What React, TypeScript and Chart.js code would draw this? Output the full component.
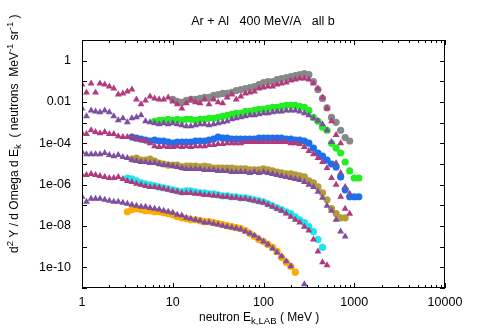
import React, { useEffect, useRef } from "react";
import { Chart, registerables } from "chart.js";

Chart.register(...registerables);

const FONT = '"Liberation Sans", Arial, Helvetica, sans-serif';

// neutron kinetic energy grid (MeV)
const energies = [1, 1.12, 1.26, 1.41, 1.58, 1.78, 2.0, 2.24, 2.51, 2.82, 3.16, 3.55, 3.98, 4.47, 5.01, 5.62, 6.31, 7.08, 7.94, 8.91, 10, 11.2, 12.6, 14.1, 15.8, 17.8, 20, 22.4, 25.1, 28.2, 31.6, 35.5, 39.8, 44.7, 50.1, 56.2, 63.1, 70.8, 79.4, 89.1, 100, 112, 126, 141, 158, 178, 200, 224, 251, 282, 316, 355, 398, 447, 501, 562, 631, 708, 794, 891, 1000, 1122];

// group 1 (top): magenta triangles from E index 0, grey circles from index 20
const tri1 = [0.070, 0.029, 0.078, 0.029, 0.078, 0.070, 0.056, 0.045, 0.023, 0.026, 0.032, 0.040, 0.0133, 0.0077, 0.0119, 0.0186, 0.0149, 0.0133, 0.0133, 0.0166, 0.0107, 0.0077, 0.0049, 0.0086, 0.0133, 0.0096, 0.0086, 0.0133, 0.0077, 0.0133, 0.0096, 0.0086, 0.0166, 0.023, 0.0133, 0.0186, 0.026, 0.029, 0.032, 0.045, 0.050, 0.056, 0.056, 0.070, 0.078, 0.087, 0.109, 0.122, 0.136, 0.136, 0.122, 0.078, 0.045, 0.0166, 0.0049, 0.00117, 2.5e-4, 1.0e-4];
const grey1 = [0.0133, 0.0107, 0.0096, 0.0119, 0.0133, 0.0133, 0.0149, 0.0166, 0.0166, 0.0208, 0.023, 0.026, 0.026, 0.029, 0.036, 0.040, 0.045, 0.050, 0.056, 0.070, 0.087, 0.098, 0.098, 0.122, 0.136, 0.152, 0.170, 0.19, 0.21, 0.237, 0.21, 0.098, 0.040, 0.0149, 0.0052, 0.0018, 0.00104, 4.3e-4, 1.9e-4, 1.3e-4];

// group 2: purple triangles from 0, green circles from 16
const tri2 = [4.9e-3, 2.03e-3, 3.9e-3, 3.5e-3, 3.2e-3, 3.9e-3, 3.2e-3, 2.03e-3, 1.3e-3, 1.63e-3, 1.04e-3, 1.63e-3, 1.82e-3, 2.27e-3, 1.17e-3, 1.04e-3, 9.3e-4, 8.4e-4, 9.3e-4, 8.4e-4, 9.3e-4, 8.4e-4, 7.5e-4, 6.7e-4, 6.7e-4, 7.5e-4, 8.4e-4, 8.4e-4, 7.5e-4, 8.4e-4, 9.3e-4, 1.04e-3, 1.17e-3, 1.46e-3, 1.63e-3, 1.82e-3, 2.03e-3, 2.27e-3, 2.27e-3, 2.54e-3, 2.83e-3, 2.83e-3, 3.2e-3, 3.5e-3, 3.5e-3, 3.9e-3, 3.9e-3, 3.9e-3, 3.5e-3, 2.83e-3, 2.27e-3, 1.63e-3, 1.25e-3, 8.4e-4, 4.3e-4, 1.15e-4, 1.1e-5, 3.7e-6, 7.8e-7, 3.6e-7];
const green2 = [1.17e-3, 1.3e-3, 1.3e-3, 1.46e-3, 1.3e-3, 1.46e-3, 1.3e-3, 1.46e-3, 1.46e-3, 1.3e-3, 1.46e-3, 1.46e-3, 1.63e-3, 1.63e-3, 1.82e-3, 2.03e-3, 2.27e-3, 2.54e-3, 2.83e-3, 2.83e-3, 3.5e-3, 3.5e-3, 3.9e-3, 4.4e-3, 4.4e-3, 4.9e-3, 5.5e-3, 5.5e-3, 6.1e-3, 6.9e-3, 6.9e-3, 6.9e-3, 6.1e-3, 5.5e-3, 3.9e-3, 1.82e-3, 1.17e-3, 6.0e-4, 4.3e-4, 1.0e-4, 5.9e-5, 3.4e-5, 1.25e-5, 4.6e-6, 2.1e-6, 2.1e-6];

// group 3: magenta triangles from 0, blue circles from 11
const tri3 = [3.1e-4, 2.8e-4, 4.3e-4, 3.5e-4, 3.1e-4, 3.5e-4, 2.8e-4, 2.8e-4, 2.2e-4, 2.0e-4, 2.0e-4, 2.0e-4, 1.6e-4, 1.43e-4, 1.28e-4, 1.02e-4, 7.3e-5, 6.6e-5, 7.3e-5, 6.6e-5, 6.6e-5, 7.3e-5, 6.6e-5, 7.3e-5, 6.6e-5, 7.3e-5, 7.3e-5, 7.3e-5, 8.2e-5, 8.2e-5, 9.2e-5, 9.2e-5, 1.02e-4, 1.02e-4, 1.02e-4, 1.02e-4, 1.15e-4, 1.15e-4, 1.15e-4, 1.15e-4, 1.15e-4, 1.15e-4, 1.15e-4, 1.15e-4, 1.15e-4, 1.15e-4, 1.02e-4, 1.02e-4, 9.2e-5, 6.6e-5, 4.2e-5, 3.0e-5, 1.94e-5, 1.25e-5, 6.4e-6, 2.1e-6, 9.8e-7, 2.6e-7, 6.9e-8, 3.9e-8];
const blue3 = [2.0e-4, 1.78e-4, 1.6e-4, 1.43e-4, 1.28e-4, 1.43e-4, 1.28e-4, 1.28e-4, 1.15e-4, 1.02e-4, 1.15e-4, 1.15e-4, 1.15e-4, 1.15e-4, 1.28e-4, 1.28e-4, 1.28e-4, 1.43e-4, 1.6e-4, 2.0e-4, 1.78e-4, 1.78e-4, 1.6e-4, 1.6e-4, 1.6e-4, 1.6e-4, 1.6e-4, 1.6e-4, 1.78e-4, 1.78e-4, 1.78e-4, 1.78e-4, 1.78e-4, 1.78e-4, 1.6e-4, 1.6e-4, 1.43e-4, 1.43e-4, 1.28e-4, 1.02e-4, 5.9e-5, 3.4e-5, 2.4e-5, 1.55e-5, 1.0e-5, 7.2e-6, 2.37e-6, 5.6e-7, 2.6e-7, 2.6e-7, 2.6e-7];

// group 4: purple triangles from 0, olive circles from 11
const tri4 = [3.8e-5, 3.0e-5, 3.0e-5, 3.0e-5, 3.0e-5, 3.4e-5, 2.7e-5, 2.4e-5, 2.7e-5, 2.17e-5, 1.94e-5, 1.55e-5, 1.39e-5, 1.25e-5, 1.25e-5, 1.12e-5, 1.12e-5, 1.0e-5, 8.9e-6, 8.9e-6, 8.0e-6, 7.2e-6, 6.4e-6, 5.75e-6, 5.75e-6, 5.75e-6, 5.75e-6, 5.15e-6, 5.15e-6, 5.15e-6, 4.6e-6, 4.6e-6, 4.6e-6, 4.1e-6, 4.1e-6, 4.1e-6, 4.1e-6, 3.7e-6, 4.1e-6, 3.7e-6, 4.1e-6, 3.7e-6, 3.3e-6, 2.95e-6, 2.65e-6, 2.37e-6, 2.1e-6, 1.9e-6, 1.7e-6, 1.36e-6, 9.8e-7, 7.8e-7, 4.5e-7, 2.3e-7, 9.5e-8, 5.5e-8, 2.0e-8, 5.4e-9, 3.1e-9];
const olive4 = [1.74e-5, 1.94e-5, 1.55e-5, 1.55e-5, 1.74e-5, 1.39e-5, 1.12e-5, 1.0e-5, 8.9e-6, 8.9e-6, 8.9e-6, 7.2e-6, 8.0e-6, 8.0e-6, 8.0e-6, 7.2e-6, 8.0e-6, 7.2e-6, 6.4e-6, 6.4e-6, 6.4e-6, 6.4e-6, 6.4e-6, 5.75e-6, 5.75e-6, 5.75e-6, 5.15e-6, 5.15e-6, 5.15e-6, 5.75e-6, 5.15e-6, 4.6e-6, 4.1e-6, 3.7e-6, 3.3e-6, 3.3e-6, 2.95e-6, 2.65e-6, 2.37e-6, 1.52e-6, 1.22e-6, 7.8e-7, 4.0e-7, 1.86e-7, 6.9e-8, 4.0e-8, 2.5e-8, 2.5e-8];

// group 5: magenta triangles from 0, cyan circles from 10
const tri5 = [2.95e-6, 2.95e-6, 3.3e-6, 2.95e-6, 2.65e-6, 2.37e-6, 2.1e-6, 2.1e-6, 2.37e-6, 1.9e-6, 1.52e-6, 1.36e-6, 1.1e-6, 9.8e-7, 8.7e-7, 7.8e-7, 7.8e-7, 7.0e-7, 6.3e-7, 5.6e-7, 5.0e-7, 4.5e-7, 4.0e-7, 4.0e-7, 4.0e-7, 3.6e-7, 3.6e-7, 3.2e-7, 3.2e-7, 2.9e-7, 2.9e-7, 2.6e-7, 2.6e-7, 2.3e-7, 2.3e-7, 2.07e-7, 2.07e-7, 1.86e-7, 1.66e-7, 1.49e-7, 1.33e-7, 1.07e-7, 8.6e-8, 6.9e-8, 5.5e-8, 4.0e-8, 2.8e-8, 2.0e-8, 1.46e-8, 9.3e-9, 6.0e-9, 2.2e-9, 5.9e-10, 1.74e-10, 1.25e-10];
const cyan5 = [2.1e-6, 1.9e-6, 1.52e-6, 1.22e-6, 1.1e-6, 9.8e-7, 8.7e-7, 7.8e-7, 7.0e-7, 6.3e-7, 5.6e-7, 5.0e-7, 4.5e-7, 5.0e-7, 5.0e-7, 4.5e-7, 4.0e-7, 4.0e-7, 3.6e-7, 3.6e-7, 3.2e-7, 2.9e-7, 2.9e-7, 2.6e-7, 2.6e-7, 2.3e-7, 2.3e-7, 2.07e-7, 1.86e-7, 1.66e-7, 1.49e-7, 1.19e-7, 9.5e-8, 7.5e-8, 6.2e-8, 4.9e-8, 4.0e-8, 2.8e-8, 2.0e-8, 1.46e-8, 9.3e-9, 5.4e-9, 2.2e-9, 9.2e-10];

// group 6 (bottom): purple triangles from 0, orange circles from 10
const tri6 = [2.6e-7, 1.49e-7, 2.07e-7, 2.07e-7, 2.07e-7, 1.86e-7, 1.66e-7, 1.49e-7, 1.49e-7, 1.33e-7, 1.19e-7, 1.07e-7, 9.5e-8, 8.6e-8, 8.6e-8, 7.5e-8, 6.9e-8, 6.2e-8, 5.5e-8, 4.9e-8, 4.4e-8, 3.5e-8, 3.2e-8, 2.5e-8, 2.27e-8, 2.0e-8, 1.8e-8, 1.46e-8, 1.46e-8, 1.3e-8, 1.17e-8, 1.04e-8, 9.3e-9, 8.4e-9, 7.5e-9, 6.7e-9, 5.4e-9, 4.3e-9, 3.5e-9, 2.5e-9, 1.78e-9, 1.28e-9, 8.2e-10, 5.2e-10, 3.4e-10, 1.95e-10, 1.12e-10, null, null, 1.5e-11];
const orange6 = [4.9e-8, 6.2e-8, 6.9e-8, 6.2e-8, 5.5e-8, 5.5e-8, 4.9e-8, 4.9e-8, 4.4e-8, 4.0e-8, 3.5e-8, 2.8e-8, 2.5e-8, 2.27e-8, 2.0e-8, 2.0e-8, 1.8e-8, 1.62e-8, 1.62e-8, 1.46e-8, 1.3e-8, 1.17e-8, 1.04e-8, 9.3e-9, 8.4e-9, 7.5e-9, 6.0e-9, 4.3e-9, 3.1e-9, 2.2e-9, 1.78e-9, 1.28e-9, 9.2e-10, 5.9e-10, 3.0e-10, 1.74e-10, 1.12e-10, 5.8e-11];

const xTickValues = [1, 10, 100, 1000, 10000];
const xTickLabels = ["1", "10", "100", "1000", "10000"];
const yTickExponents = [1, 0, -1, -2, -3, -4, -5, -6, -7, -8, -9, -10, -11];
const yTickLabels: Record<string, string> = { "0": "1", "-2": "0.01", "-4": "1e-04", "-6": "1e-06", "-8": "1e-08", "-10": "1e-10" };

const titleText = "Ar + Al   400 MeV/A   all b";

const MAGENTA = "#b03a7e";
const PURPLE = "#7e4ea1";

type Series = { values: (number | null)[]; start: number; color: string; style: "triangle" | "circle" };

const series: Series[] = [
  { values: tri1, start: 0, color: MAGENTA, style: "triangle" },
  { values: tri2, start: 0, color: PURPLE, style: "triangle" },
  { values: tri3, start: 0, color: MAGENTA, style: "triangle" },
  { values: tri4, start: 0, color: PURPLE, style: "triangle" },
  { values: tri5, start: 0, color: MAGENTA, style: "triangle" },
  { values: tri6, start: 0, color: PURPLE, style: "triangle" },
  { values: grey1, start: 20, color: "#888888", style: "circle" },
  { values: green2, start: 16, color: "#22ee22", style: "circle" },
  { values: blue3, start: 11, color: "#1c70ee", style: "circle" },
  { values: olive4, start: 11, color: "#b39b38", style: "circle" },
  { values: cyan5, start: 10, color: "#18e6f0", style: "circle" },
  { values: orange6, start: 10, color: "#ffaa00", style: "circle" },
];

function toPoints(s: Series) {
  const out: { x: number; y: number }[] = [];
  s.values.forEach((v, k) => {
    if (v != null) out.push({ x: energies[s.start + k], y: v });
  });
  return out;
}

type Seg = { t: string; scale?: number; dy?: number };

function drawRich(ctx: CanvasRenderingContext2D, segs: Seg[], x0: number, y0: number, size: number) {
  let cx = x0;
  for (const s of segs) {
    const sz = size * (s.scale || 1);
    ctx.font = `${sz}px ${FONT}`;
    ctx.fillText(s.t, cx, y0 + (s.dy || 0));
    cx += ctx.measureText(s.t).width;
  }
}

const decorPlugin = {
  id: "decor",
  afterDraw(chart: any) {
    const { ctx, chartArea: a, scales } = chart;
    const xs = scales.x;
    const ys = scales.y;
    ctx.save();
    ctx.strokeStyle = "#000";
    ctx.lineWidth = 1;
    ctx.beginPath();
    // x ticks (inward, bottom and top)
    for (let d = 0; d <= 4; d++) {
      for (let m = 1; m <= 9; m++) {
        const v = m * Math.pow(10, d);
        if (v > 10000) break;
        const px = Math.round(xs.getPixelForValue(v)) + 0.5;
        const len = m === 1 ? 5 : 3;
        ctx.moveTo(px, a.bottom);
        ctx.lineTo(px, a.bottom - len);
        ctx.moveTo(px, a.top);
        ctx.lineTo(px, a.top + len);
      }
    }
    // y ticks (inward, left and right)
    for (const e of yTickExponents) {
      const py = Math.round(ys.getPixelForValue(Math.pow(10, e))) + 0.5;
      const len = 5;
      ctx.moveTo(a.left, py);
      ctx.lineTo(a.left + len, py);
      ctx.moveTo(a.right, py);
      ctx.lineTo(a.right - len, py);
    }
    ctx.stroke();
    ctx.strokeRect(a.left + 0.5, a.top + 0.5, a.right - a.left - 1, a.bottom - a.top - 1);

    ctx.fillStyle = "#000";
    ctx.textBaseline = "alphabetic";
    // title
    ctx.font = `12.5px ${FONT}`;
    ctx.textAlign = "center";
    ctx.fillText(titleText, 263, 25);
    ctx.textAlign = "left";
    // x axis title
    drawRich(ctx, [
      { t: "neutron E" },
      { t: "k,LAB", scale: 0.8, dy: 3 },
      { t: " ( MeV )" },
    ], 199, 321, 12);
    // y axis title (rotated)
    ctx.translate(18, 253);
    ctx.rotate(-Math.PI / 2);
    drawRich(ctx, [
      { t: "d" },
      { t: "2", scale: 0.8, dy: -5 },
      { t: " Y / d Omega d E" },
      { t: "k", scale: 0.8, dy: 3 },
      { t: "  ( neutrons  MeV" },
      { t: "-1", scale: 0.8, dy: -5 },
      { t: " sr" },
      { t: "-1", scale: 0.8, dy: -5 },
      { t: " )" },
    ], 0, 0, 12);
    ctx.restore();
  },
};

export default function App() {
  const ref = useRef<HTMLCanvasElement>(null);
  useEffect(() => {
    if (!ref.current) return;
    const chart = new Chart(ref.current, {
      type: "scatter",
      data: {
        datasets: series.map((s) => ({
          data: toPoints(s),
          showLine: false,
          pointStyle: s.style,
          pointRadius: s.style === "triangle" ? 4 : 3.6,
          pointBorderWidth: 0,
          pointBackgroundColor: s.color,
          pointBorderColor: s.color,
          backgroundColor: s.color,
          borderColor: s.color,
        })),
      },
      options: {
        animation: false,
        responsive: false,
        devicePixelRatio: 1,
        layout: { padding: { top: 40, right: 43, left: 0, bottom: 0 } },
        plugins: { legend: { display: false }, tooltip: { enabled: false }, title: { display: false } },
        scales: {
          x: {
            type: "logarithmic",
            min: 1,
            max: 10000,
            grid: { display: false, drawTicks: false },
            border: { display: false },
            afterBuildTicks: (scale: any) => {
              scale.ticks = xTickValues.map((v) => ({ value: v }));
            },
            afterFit: (scale: any) => {
              scale.height = 40;
            },
            ticks: {
              autoSkip: false,
              maxRotation: 0,
              padding: 7,
              color: "#000",
              font: { family: FONT, size: 12.5 },
              callback: (v: any) => {
                const i = xTickValues.indexOf(Number(v));
                return i >= 0 ? xTickLabels[i] : "";
              },
            },
          },
          y: {
            type: "logarithmic",
            min: 1e-11,
            max: 10,
            grid: { display: false, drawTicks: false },
            border: { display: false },
            afterBuildTicks: (scale: any) => {
              scale.ticks = yTickExponents.map((e) => ({ value: Math.pow(10, e) }));
            },
            afterFit: (scale: any) => {
              scale.width = 82;
            },
            ticks: {
              autoSkip: false,
              padding: 11,
              color: "#000",
              font: { family: FONT, size: 12.5 },
              callback: (v: any) => {
                const e = Math.round(Math.log10(Number(v)));
                return yTickLabels[String(e)] || "";
              },
            },
          },
        },
      },
      plugins: [decorPlugin],
    } as any);
    return () => chart.destroy();
  }, []);
  return (
    <div style={{ position: "fixed", left: 0, top: 0, width: 488, height: 328, background: "#fff" }}>
      <canvas ref={ref} width={488} height={328} style={{ display: "block" }} />
    </div>
  );
}
